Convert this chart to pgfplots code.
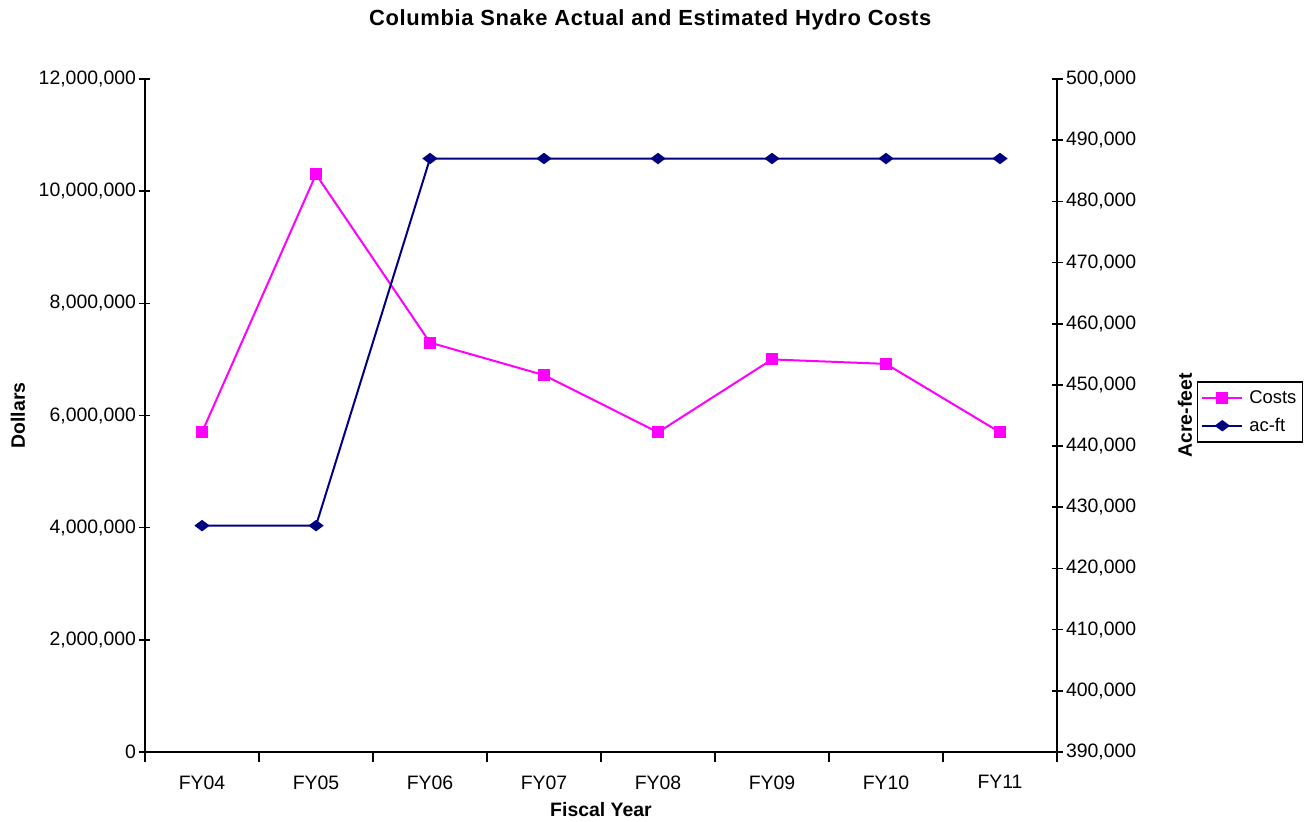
\documentclass[border=0pt]{standalone}
\usepackage{fontspec}
\setmainfont{Liberation Sans}
\usepackage{pgfplots}
\pgfplotsset{compat=1.18}
\definecolor{costs}{RGB}{255,0,255}
\definecolor{acft}{RGB}{0,0,128}

\begin{document}
\begin{tikzpicture}
\pgfplotsset{
  every axis/.append style={
    scale only axis, width=912bp, height=673bp,
    xmin=-0.5, xmax=7.5,
    font=\fontsize{19.5}{23}\selectfont,
    /pgf/number format/assume math mode=true,
    /pgf/number format/fixed,
    /pgf/number format/1000 sep={,},
    axis line style={-, line width=1.6bp},
    every tick/.style={black, line width=1.6bp},
    major tick length=11bp, minor tick length=10bp,
    scaled y ticks=false,
  },
}
\begin{axis}[
  axis x line*=bottom, axis y line*=left,
  ymin=0, ymax=12000000,
  ytick={0,2000000,4000000,6000000,8000000,10000000,12000000},
  ytick align=center,
  xtick={0,1,2,3,4,5,6,7},
  xticklabels={FY04,FY05,FY06,FY07,FY08,FY09,FY10,FY11},
  major x tick style={draw=none},
  minor xtick={-0.5,0.5,1.5,2.5,3.5,4.5,5.5,6.5,7.5},
  xtick align=outside,
  xticklabel style={yshift=-9bp},
  xlabel={\bfseries Fiscal Year},
  xlabel style={at={(rel axis cs:0.5,0)}, anchor=center, yshift=-58bp},
  ylabel={\bfseries Dollars},
  ylabel style={at={(rel axis cs:0,0.5)}, anchor=center, yshift=127bp},
  title={\fontsize{22}{26}\selectfont\addfontfeature{LetterSpace=3}\bfseries Columbia Snake Actual and Estimated Hydro Costs},
  title style={at={(rel axis cs:0.554,1)}, anchor=center, yshift=53bp},
]
\addplot[costs, line width=2bp, mark=square*, mark size=5bp, mark options={solid}]
  coordinates {(0,5700000) (1,10300000) (2,7300000) (3,6720000) (4,5700000) (5,7000000) (6,6920000) (7,5700000)};
\end{axis}
\begin{axis}[
  axis x line=none, axis y line*=right,
  ymin=390000, ymax=500000,
  ytick={390000,400000,410000,420000,430000,440000,450000,460000,470000,480000,490000,500000},
  ytick align=center,
  xtick=\empty,
  ylabel={\bfseries Acre-feet},
  ylabel style={at={(rel axis cs:1,0.5)}, anchor=center, yshift=-128bp},
  legend style={at={(1.153,0.551)}, anchor=north west, draw=black, line width=1.6bp,
    font=\fontsize{18.5}{22}\selectfont, row sep=9bp, inner xsep=4bp, inner ysep=7bp,
    column sep=4bp},
  legend cell align=left,
  legend image code/.code={\draw[mark repeat=2,mark phase=2] plot coordinates {(0bp,0bp) (20bp,0bp) (40bp,0bp)};},
]
\addlegendimage{costs, line width=2bp, mark=square*, mark size=5bp}
\addlegendentry{Costs}
\addplot[acft, line width=2bp, mark=diamond*, mark size=6bp, mark options={rotate=90}]
  coordinates {(0,427000) (1,427000) (2,487000) (3,487000) (4,487000) (5,487000) (6,487000) (7,487000)};
\addlegendentry{ac-ft}
\end{axis}
\path[use as bounding box] (-145bp,-70bp) rectangle (1169bp,752bp);
\end{tikzpicture}
\end{document}
